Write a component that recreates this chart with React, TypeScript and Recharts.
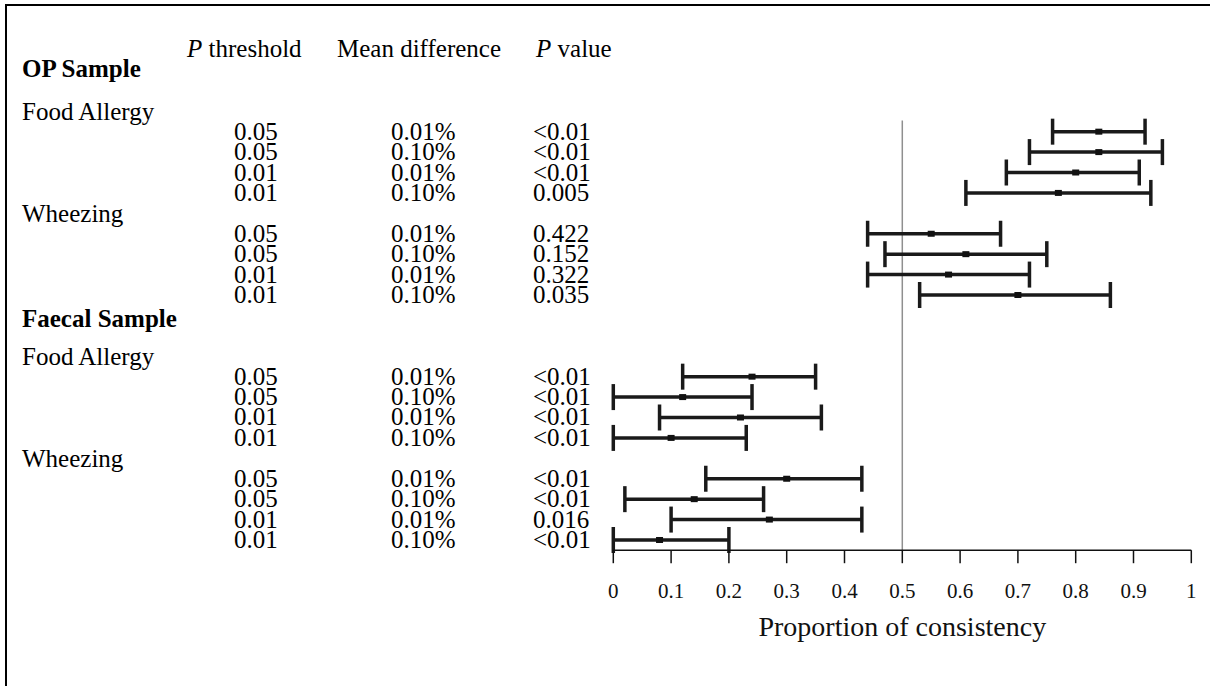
import {
  ScatterChart, Scatter, XAxis, YAxis, ErrorBar, ReferenceLine, Label,
} from 'recharts';

const FONT = '"Liberation Serif", "Times New Roman", serif';

// row slots (0 = first OP row); gaps hold the group titles
const rowPos = [0, 1, 2, 3, 5, 6, 7, 8, 12, 13, 14, 15, 17, 18, 19, 20];
const pThreshold = ['0.05', '0.05', '0.01', '0.01', '0.05', '0.05', '0.01', '0.01',
  '0.05', '0.05', '0.01', '0.01', '0.05', '0.05', '0.01', '0.01'];
const meanDiff = ['0.01%', '0.10%', '0.01%', '0.10%', '0.01%', '0.10%', '0.01%', '0.10%',
  '0.01%', '0.10%', '0.01%', '0.10%', '0.01%', '0.10%', '0.01%', '0.10%'];
const pValue = ['<0.01', '<0.01', '<0.01', '0.005', '0.422', '0.152', '0.322', '0.035',
  '<0.01', '<0.01', '<0.01', '<0.01', '<0.01', '<0.01', '0.016', '<0.01'];
const estimate = [0.84, 0.84, 0.80, 0.77, 0.55, 0.61, 0.58, 0.70,
  0.24, 0.12, 0.22, 0.10, 0.30, 0.14, 0.27, 0.08];
const lower = [0.76, 0.72, 0.68, 0.61, 0.44, 0.47, 0.44, 0.53,
  0.12, 0.00, 0.08, 0.00, 0.16, 0.02, 0.10, 0.00];
const upper = [0.92, 0.95, 0.91, 0.93, 0.67, 0.75, 0.72, 0.86,
  0.35, 0.24, 0.36, 0.23, 0.43, 0.26, 0.43, 0.20];

const groupLabels = ['OP Sample', 'Food Allergy', 'Wheezing', 'Faecal Sample', 'Food Allergy', 'Wheezing'];
const groupPos = [-3.05, -0.95, 4.05, 9.2, 11.05, 16.05];
const groupBold = [true, false, false, true, false, false];
const headerPos = -4.05;

const xTicks = [0, 0.1, 0.2, 0.3, 0.4, 0.5, 0.6, 0.7, 0.8, 0.9, 1];

const data = rowPos.map((pos, i) => ({
  pos,
  est: estimate[i],
  err: [estimate[i] - lower[i], upper[i] - estimate[i]],
}));

const yTicks = [headerPos, ...groupPos, ...rowPos];

// column x positions (page px)
const COL_LABEL = 22;
const COL_THR = 234;
const COL_MD = 391;
const COL_PV = 533;

function RowTick(props: any) {
  const { y, payload } = props;
  const v = payload.value;
  const base = y + 8;
  if (v === headerPos) {
    return (
      <g fontFamily={FONT} fontSize={25} fill="#000">
        <text x={187} y={base}><tspan fontStyle="italic">P</tspan> threshold</text>
        <text x={337} y={base}>Mean difference</text>
        <text x={536} y={base}><tspan fontStyle="italic">P</tspan> value</text>
      </g>
    );
  }
  const g = groupPos.indexOf(v);
  if (g >= 0) {
    return (
      <text x={COL_LABEL} y={base} fontFamily={FONT} fontSize={25}
        fontWeight={groupBold[g] ? 'bold' : 'normal'} fill="#000">
        {groupLabels[g]}
      </text>
    );
  }
  const i = rowPos.indexOf(v);
  if (i < 0) return null;
  return (
    <g fontFamily={FONT} fontSize={25} fill="#000">
      <text x={COL_THR} y={base}>{pThreshold[i]}</text>
      <text x={COL_MD} y={base}>{meanDiff[i]}</text>
      <text x={COL_PV} y={base}>{pValue[i]}</text>
    </g>
  );
}

const Marker = (p: any) => (
  <rect x={p.cx - 3.5} y={p.cy - 3} width={7} height={6} fill="#111" />
);

export default function App() {
  return (
    <div style={{ position: 'relative', width: 1210, height: 686 }}>
      <style>{'body{margin:0;background:#fff}'}</style>
      <div style={{
        position: 'absolute', left: 5, top: 4, right: 0, bottom: 0,
        borderTop: '2.5px solid #000', borderLeft: '2.5px solid #000',
      }} />
      <div style={{ position: 'absolute', left: 0, top: 0 }}>
        <ScatterChart width={1210} height={686}
          margin={{ top: 39.8, right: 18.7, bottom: 0, left: 0 }}>
          <XAxis type="number" dataKey="est" domain={[0, 1]} ticks={xTicks}
            allowDataOverflow height={135.8} interval={0}
            tickSize={13} tickMargin={20}
            axisLine={{ stroke: '#111', strokeWidth: 1.5 }}
            tickLine={{ stroke: '#111', strokeWidth: 1.5 }}
            tick={{ fill: '#111', fontSize: 21, fontFamily: FONT }}>
            <Label value="Proportion of consistency" position="insideTop" offset={66}
              fill="#111" fontSize={28} fontFamily={FONT} />
          </XAxis>
          <YAxis type="number" dataKey="pos" reversed domain={[-4.5, 20.5]}
            allowDataOverflow ticks={yTicks} interval={0} width={613.3}
            axisLine={false} tickLine={false} tick={<RowTick />} />
          <ReferenceLine segment={[{ x: 0.5, y: -0.55 }, { x: 0.5, y: 20.5 }]}
            stroke="#8f8f8f" strokeWidth={1.5} ifOverflow="visible" />
          <Scatter data={data} shape={<Marker />} isAnimationActive={false}>
            <ErrorBar dataKey="err" direction="x" width={13} strokeWidth={3.5}
              stroke="#1a1a1a" isAnimationActive={false} />
          </Scatter>
        </ScatterChart>
      </div>
    </div>
  );
}
